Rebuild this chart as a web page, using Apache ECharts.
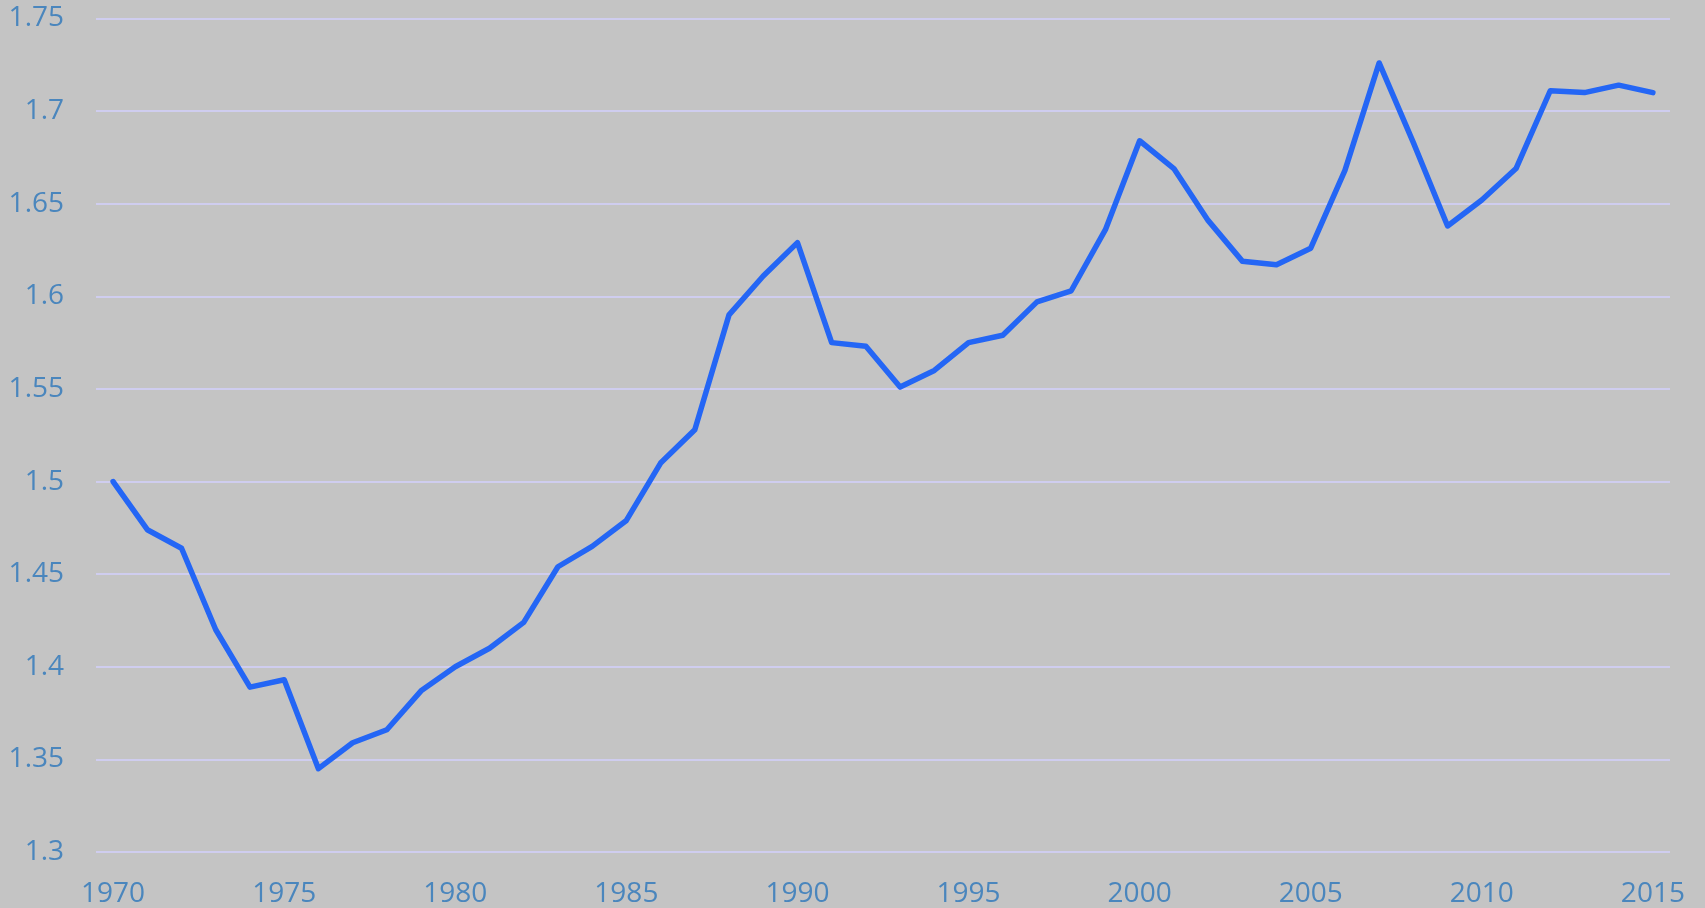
<!DOCTYPE html>
<html>
<head>
<meta charset="utf-8">
<script src="https://cdn.jsdelivr.net/npm/echarts@6/dist/echarts.min.js"></script>
<style>
  html, body { margin: 0; padding: 0; background: #c4c4c4; }
  #chart { width: 1705px; height: 908px; }
</style>
</head>
<body>
<div id="chart"></div>
<script>
// years on the x axis
var years = [];
for (var y = 1970; y <= 2015; y++) years.push(String(y));

// values, 1970..2015
var values = [
  1.500, 1.474, 1.464, 1.420, 1.389, 1.393, 1.345, 1.359, 1.366, 1.387,
  1.400, 1.410, 1.424, 1.454, 1.465, 1.479, 1.510, 1.528, 1.590, 1.611,
  1.629, 1.575, 1.573, 1.551, 1.560, 1.575, 1.579, 1.597, 1.603, 1.636,
  1.684, 1.669, 1.641, 1.619, 1.617, 1.626, 1.668, 1.726, 1.683, 1.638,
  1.652, 1.669, 1.711, 1.710, 1.714, 1.710
];

var yMin = 1.3, yMax = 1.75, yStep = 0.05;
var labelColor = '#4a86bd';

var option = {
  backgroundColor: '#c4c4c4',
  animation: false,
  grid: {
    left: 96,
    right: 35,
    top: 18.5,
    bottom: 55.5
  },
  xAxis: {
    type: 'category',
    data: years,
    boundaryGap: true,
    axisLine: { show: false },
    axisTick: { show: false },
    axisLabel: {
      interval: 4,
      color: labelColor,
      fontFamily: 'Open Sans',
      fontSize: 28,
      margin: 28
    },
    splitLine: { show: false }
  },
  yAxis: {
    type: 'value',
    min: yMin,
    max: yMax,
    interval: yStep,
    axisLine: { show: false },
    axisTick: { show: false },
    axisLabel: {
      color: labelColor,
      fontFamily: 'Open Sans',
      fontSize: 28,
      margin: 32,
      padding: [7, 0, 0, 0],
      formatter: function (v) { return String(+v.toFixed(2)); }
    },
    splitLine: {
      lineStyle: { color: '#cfcdef', width: 2 }
    }
  },
  series: [
    {
      type: 'line',
      data: values,
      showSymbol: false,
      symbol: 'none',
      lineStyle: {
        color: '#2466f5',
        width: 5.5,
        join: 'round',
        cap: 'round'
      }
    }
  ]
};

var myChart = echarts.init(document.getElementById('chart'));
myChart.setOption(option);
</script>
</body>
</html>
